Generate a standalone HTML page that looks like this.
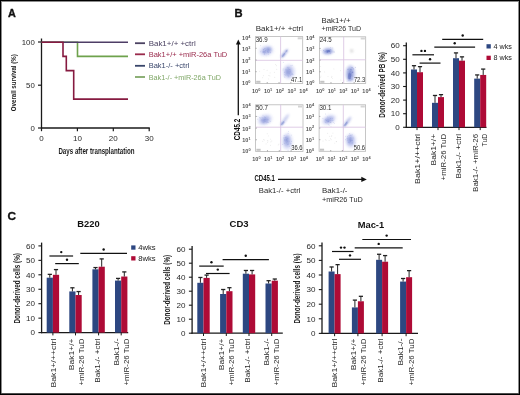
<!DOCTYPE html>
<html><head><meta charset="utf-8"><style>
html,body{margin:0;padding:0;background:#fff;}
#w{position:relative;width:520px;height:395px;overflow:hidden;background:#fff;}
svg{position:absolute;left:0;top:0;will-change:transform;filter:blur(0.3px);}
text{font-family:'Liberation Sans', sans-serif;}
#bd{position:absolute;left:0;top:0;width:520px;height:395px;box-shadow:inset 0 0 0 1px #000, inset 0 -2px 0 0 rgba(0,0,0,.45), inset 0 0 0 2px rgba(0,0,0,.45);}
</style></head><body><div id="w">
<svg width="520" height="395" viewBox="0 0 520 395">
<defs><filter id="f3" x="-50%" y="-50%" width="200%" height="200%"><feGaussianBlur stdDeviation="0.3"/></filter><filter id="f4" x="-50%" y="-50%" width="200%" height="200%"><feGaussianBlur stdDeviation="0.4"/></filter><filter id="f5" x="-50%" y="-50%" width="200%" height="200%"><feGaussianBlur stdDeviation="0.5"/></filter><filter id="f6" x="-50%" y="-50%" width="200%" height="200%"><feGaussianBlur stdDeviation="0.6"/></filter><filter id="f7" x="-50%" y="-50%" width="200%" height="200%"><feGaussianBlur stdDeviation="0.7"/></filter><filter id="f8" x="-50%" y="-50%" width="200%" height="200%"><feGaussianBlur stdDeviation="0.8"/></filter><filter id="f9" x="-50%" y="-50%" width="200%" height="200%"><feGaussianBlur stdDeviation="0.9"/></filter><filter id="f10" x="-50%" y="-50%" width="200%" height="200%"><feGaussianBlur stdDeviation="1.0"/></filter><filter id="f11" x="-50%" y="-50%" width="200%" height="200%"><feGaussianBlur stdDeviation="1.1"/></filter><filter id="f12" x="-50%" y="-50%" width="200%" height="200%"><feGaussianBlur stdDeviation="1.2"/></filter><filter id="f13" x="-50%" y="-50%" width="200%" height="200%"><feGaussianBlur stdDeviation="1.3"/></filter><filter id="f14" x="-50%" y="-50%" width="200%" height="200%"><feGaussianBlur stdDeviation="1.4"/></filter><filter id="f15" x="-50%" y="-50%" width="200%" height="200%"><feGaussianBlur stdDeviation="1.5"/></filter><filter id="f16" x="-50%" y="-50%" width="200%" height="200%"><feGaussianBlur stdDeviation="1.6"/></filter><filter id="f17" x="-50%" y="-50%" width="200%" height="200%"><feGaussianBlur stdDeviation="1.7"/></filter><filter id="f18" x="-50%" y="-50%" width="200%" height="200%"><feGaussianBlur stdDeviation="1.8"/></filter><filter id="f19" x="-50%" y="-50%" width="200%" height="200%"><feGaussianBlur stdDeviation="1.9"/></filter></defs><text x="8.1" y="16.9" font-size="10.8" text-anchor="start" font-weight="bold" fill="#111" stroke="#111" stroke-width="0.35">A</text>
<line x1="41.5" y1="38.5" x2="41.5" y2="128.6" stroke="#1a1a1a" stroke-width="1.3" />
<line x1="40.9" y1="128" x2="149.8" y2="128" stroke="#1a1a1a" stroke-width="1.3" />
<line x1="38" y1="42" x2="41.5" y2="42" stroke="#1a1a1a" stroke-width="1.2" />
<text x="34.8" y="44.5" font-size="7.8" text-anchor="end" font-weight="normal" fill="#2a2a2a" >100</text>
<line x1="38" y1="85.2" x2="41.5" y2="85.2" stroke="#1a1a1a" stroke-width="1.2" />
<text x="34.8" y="87.7" font-size="7.8" text-anchor="end" font-weight="normal" fill="#2a2a2a" >50</text>
<line x1="38" y1="128" x2="41.5" y2="128" stroke="#1a1a1a" stroke-width="1.2" />
<text x="34.8" y="130.5" font-size="7.8" text-anchor="end" font-weight="normal" fill="#2a2a2a" >0</text>
<line x1="41.5" y1="128" x2="41.5" y2="131.2" stroke="#1a1a1a" stroke-width="1.2" />
<text x="41.5" y="140.7" font-size="8" text-anchor="middle" font-weight="normal" fill="#2a2a2a" >0</text>
<line x1="77.4" y1="128" x2="77.4" y2="131.2" stroke="#1a1a1a" stroke-width="1.2" />
<text x="77.4" y="140.7" font-size="8" text-anchor="middle" font-weight="normal" fill="#2a2a2a" >10</text>
<line x1="113.3" y1="128" x2="113.3" y2="131.2" stroke="#1a1a1a" stroke-width="1.2" />
<text x="113.3" y="140.7" font-size="8" text-anchor="middle" font-weight="normal" fill="#2a2a2a" >20</text>
<line x1="149.2" y1="128" x2="149.2" y2="131.2" stroke="#1a1a1a" stroke-width="1.2" />
<text x="149.2" y="140.7" font-size="8" text-anchor="middle" font-weight="normal" fill="#2a2a2a" >30</text>
<text x="58.4" y="154.3" font-size="9.8" text-anchor="start" font-weight="bold" fill="#1a1a1a" textLength="76.2" lengthAdjust="spacingAndGlyphs" >Days after transplantation</text>
<text x="16.0" y="111.2" font-size="7.4" text-anchor="start" font-weight="bold" fill="#1a1a1a" textLength="57" lengthAdjust="spacingAndGlyphs" transform="rotate(-90 16.0 111.2)" >Overall survival (%)</text>
<polyline points="41.5,42.2 77.5,42.2 77.5,56.4 128,56.4" fill="none" stroke="#6ea24c" stroke-width="1.6" stroke-linejoin="miter" stroke-linecap="butt"/>
<polyline points="41.5,42.2 128,42.2" fill="none" stroke="#4e3d66" stroke-width="1.6" stroke-linejoin="miter" stroke-linecap="butt"/>
<polyline points="41.5,42.2 63,42.2 63,56.4 66.3,56.4 66.3,70.6 73.7,70.6 73.7,99.1 128,99.1" fill="none" stroke="#861a40" stroke-width="1.6" stroke-linejoin="miter" stroke-linecap="butt"/>
<line x1="135" y1="43.2" x2="145" y2="43.2" stroke="#4b4262" stroke-width="1.8" />
<text x="148.7" y="45.7" font-size="8.0" text-anchor="start" font-weight="normal" fill="#4b4262" textLength="47" lengthAdjust="spacingAndGlyphs" >Bak1+/+ +ctrl</text>
<line x1="135" y1="54.3" x2="145" y2="54.3" stroke="#9a2a4c" stroke-width="1.8" />
<text x="148.7" y="56.8" font-size="8.0" text-anchor="start" font-weight="normal" fill="#9a2a4c" textLength="78.6" lengthAdjust="spacingAndGlyphs" >Bak1+/+ +miR-26a TuD</text>
<line x1="135" y1="65.8" x2="145" y2="65.8" stroke="#38456a" stroke-width="1.8" />
<text x="148.7" y="68.3" font-size="8.0" text-anchor="start" font-weight="normal" fill="#38456a" textLength="40.6" lengthAdjust="spacingAndGlyphs" >Bak1-/- +ctrl</text>
<line x1="135" y1="77" x2="145" y2="77" stroke="#80a868" stroke-width="1.8" />
<text x="148.7" y="79.5" font-size="8.0" text-anchor="start" font-weight="normal" fill="#80a868" textLength="72.3" lengthAdjust="spacingAndGlyphs" >Bak1-/- +miR-26a TuD</text>
<text x="234.6" y="16.8" font-size="11.2" text-anchor="start" font-weight="bold" fill="#111" stroke="#111" stroke-width="0.35">B</text>
<text x="255.8" y="31.3" font-size="7.4" text-anchor="start" font-weight="normal" fill="#2a2a2a" textLength="47.2" lengthAdjust="spacingAndGlyphs" >Bak1+/+ +ctrl</text>
<text x="321.5" y="23.3" font-size="7.4" text-anchor="start" font-weight="normal" fill="#2a2a2a" textLength="29" lengthAdjust="spacingAndGlyphs" >Bak1+/+</text>
<text x="321.5" y="31.3" font-size="7.4" text-anchor="start" font-weight="normal" fill="#2a2a2a" textLength="39.5" lengthAdjust="spacingAndGlyphs" >+miR26 TuD</text>
<rect x="255.4" y="36.6" width="47.29999999999998" height="46.800000000000004" fill="none" stroke="#b8b8b8" stroke-width="0.8"/>
<line x1="280.6" y1="36.6" x2="280.6" y2="83.4" stroke="#d9c4e2" stroke-width="0.85" />
<line x1="255.4" y1="60.3" x2="302.7" y2="60.3" stroke="#d9c4e2" stroke-width="0.85" />
<ellipse cx="266.3" cy="50.8" rx="7.0" ry="5.0" fill="#d5d9f5" opacity="0.9" transform="rotate(-15 266.3 50.8)" filter="url(#f14)"/>
<ellipse cx="266.8" cy="50.6" rx="4.6" ry="3.2" fill="#acb5e6" opacity="0.8" transform="rotate(-20 266.8 50.6)" filter="url(#f11)"/>
<ellipse cx="268.3" cy="49.6" rx="2.2" ry="1.7" fill="#7f8dd2" opacity="0.6" transform="rotate(-20 268.3 49.6)" filter="url(#f8)"/>
<ellipse cx="264" cy="52" rx="1.6" ry="1.2" fill="#8f9bd8" opacity="0.5" transform="rotate(0 264 52)" filter="url(#f7)"/>
<ellipse cx="284.5" cy="53.5" rx="1.6" ry="5.8" fill="#b4bae6" opacity="0.9" transform="rotate(38 284.5 53.5)" filter="url(#f8)"/>
<ellipse cx="283.5" cy="55" rx="0.9" ry="2.8" fill="#7888cc" opacity="0.7" transform="rotate(38 283.5 55)" filter="url(#f5)"/>
<ellipse cx="286.5" cy="51" rx="0.8" ry="1.6" fill="#7888cc" opacity="0.6" transform="rotate(38 286.5 51)" filter="url(#f5)"/>
<ellipse cx="289" cy="71.8" rx="6.0" ry="7.2" fill="#d5d9f5" opacity="0.9" transform="rotate(0 289 71.8)" filter="url(#f14)"/>
<ellipse cx="288.5" cy="72" rx="3.8" ry="5.0" fill="#acb5e6" opacity="0.8" transform="rotate(0 288.5 72)" filter="url(#f11)"/>
<ellipse cx="288" cy="72" rx="1.9" ry="2.7" fill="#7f8dd2" opacity="0.55" transform="rotate(0 288 72)" filter="url(#f8)"/>
<circle cx="265.6" cy="52.0" r="0.45" fill="#7584cc" opacity="0.4"/>
<circle cx="265.7" cy="50.1" r="0.45" fill="#7584cc" opacity="0.4"/>
<circle cx="263.3" cy="49.8" r="0.45" fill="#7584cc" opacity="0.4"/>
<circle cx="270.3" cy="52.8" r="0.45" fill="#7584cc" opacity="0.4"/>
<circle cx="270.0" cy="52.3" r="0.45" fill="#7584cc" opacity="0.4"/>
<circle cx="267.8" cy="51.7" r="0.45" fill="#7584cc" opacity="0.4"/>
<circle cx="260.8" cy="51.8" r="0.45" fill="#7584cc" opacity="0.4"/>
<circle cx="268.2" cy="52.5" r="0.45" fill="#7584cc" opacity="0.4"/>
<circle cx="260.7" cy="45.8" r="0.45" fill="#7584cc" opacity="0.4"/>
<circle cx="263.5" cy="49.3" r="0.45" fill="#7584cc" opacity="0.4"/>
<circle cx="267.5" cy="51.1" r="0.45" fill="#7584cc" opacity="0.4"/>
<circle cx="268.3" cy="49.9" r="0.45" fill="#7584cc" opacity="0.4"/>
<circle cx="267.5" cy="52.1" r="0.45" fill="#7584cc" opacity="0.4"/>
<circle cx="264.3" cy="54.5" r="0.45" fill="#7584cc" opacity="0.4"/>
<circle cx="268.4" cy="54.1" r="0.45" fill="#7584cc" opacity="0.4"/>
<circle cx="264.4" cy="48.9" r="0.45" fill="#7584cc" opacity="0.4"/>
<circle cx="265.3" cy="50.5" r="0.45" fill="#7584cc" opacity="0.4"/>
<circle cx="268.6" cy="52.0" r="0.45" fill="#7584cc" opacity="0.4"/>
<circle cx="265.0" cy="48.5" r="0.45" fill="#7584cc" opacity="0.4"/>
<circle cx="264.7" cy="53.4" r="0.45" fill="#7584cc" opacity="0.4"/>
<circle cx="263.8" cy="51.0" r="0.45" fill="#7584cc" opacity="0.4"/>
<circle cx="268.0" cy="47.9" r="0.45" fill="#7584cc" opacity="0.4"/>
<circle cx="288.7" cy="76.7" r="0.45" fill="#7584cc" opacity="0.4"/>
<circle cx="283.0" cy="70.1" r="0.45" fill="#7584cc" opacity="0.4"/>
<circle cx="288.3" cy="69.0" r="0.45" fill="#7584cc" opacity="0.4"/>
<circle cx="290.0" cy="72.0" r="0.45" fill="#7584cc" opacity="0.4"/>
<circle cx="284.5" cy="74.4" r="0.45" fill="#7584cc" opacity="0.4"/>
<circle cx="290.5" cy="75.6" r="0.45" fill="#7584cc" opacity="0.4"/>
<circle cx="292.6" cy="73.8" r="0.45" fill="#7584cc" opacity="0.4"/>
<circle cx="288.9" cy="67.4" r="0.45" fill="#7584cc" opacity="0.4"/>
<circle cx="290.3" cy="70.0" r="0.45" fill="#7584cc" opacity="0.4"/>
<circle cx="287.3" cy="67.3" r="0.45" fill="#7584cc" opacity="0.4"/>
<circle cx="285.9" cy="69.7" r="0.45" fill="#7584cc" opacity="0.4"/>
<circle cx="292.2" cy="65.2" r="0.45" fill="#7584cc" opacity="0.4"/>
<circle cx="284.5" cy="72.3" r="0.45" fill="#7584cc" opacity="0.4"/>
<circle cx="292.6" cy="74.6" r="0.45" fill="#7584cc" opacity="0.4"/>
<circle cx="283.3" cy="62.3" r="0.45" fill="#7584cc" opacity="0.4"/>
<circle cx="289.6" cy="69.5" r="0.45" fill="#7584cc" opacity="0.4"/>
<circle cx="285.5" cy="75.1" r="0.45" fill="#7584cc" opacity="0.4"/>
<circle cx="291.7" cy="73.0" r="0.45" fill="#7584cc" opacity="0.4"/>
<circle cx="289.3" cy="73.6" r="0.45" fill="#7584cc" opacity="0.4"/>
<circle cx="293.1" cy="74.8" r="0.45" fill="#7584cc" opacity="0.4"/>
<circle cx="290.1" cy="74.1" r="0.45" fill="#7584cc" opacity="0.4"/>
<circle cx="284.2" cy="76.0" r="0.45" fill="#7584cc" opacity="0.4"/>
<circle cx="291.3" cy="74.2" r="0.45" fill="#7584cc" opacity="0.4"/>
<circle cx="283.1" cy="69.0" r="0.45" fill="#7584cc" opacity="0.4"/>
<circle cx="291.0" cy="65.8" r="0.45" fill="#7584cc" opacity="0.4"/>
<circle cx="288.1" cy="75.6" r="0.45" fill="#7584cc" opacity="0.4"/>
<circle cx="284.9" cy="77.3" r="0.45" fill="#7584cc" opacity="0.4"/>
<circle cx="290.1" cy="71.7" r="0.45" fill="#7584cc" opacity="0.4"/>
<circle cx="269.9" cy="75.9" r="0.45" fill="#bbbbbb" opacity="0.5"/>
<circle cx="268.7" cy="78.9" r="0.45" fill="#bbbbbb" opacity="0.5"/>
<circle cx="264.0" cy="69.5" r="0.45" fill="#bbbbbb" opacity="0.5"/>
<circle cx="274.3" cy="72.2" r="0.45" fill="#bbbbbb" opacity="0.5"/>
<circle cx="262.7" cy="77.7" r="0.45" fill="#bbbbbb" opacity="0.5"/>
<circle cx="276.8" cy="69.3" r="0.45" fill="#bbbbbb" opacity="0.5"/>
<circle cx="259.7" cy="71.2" r="0.45" fill="#bbbbbb" opacity="0.5"/>
<circle cx="267.1" cy="70.2" r="0.45" fill="#bbbbbb" opacity="0.5"/>
<circle cx="276.4" cy="65.8" r="0.45" fill="#bbbbbb" opacity="0.5"/>
<circle cx="275.6" cy="64.4" r="0.45" fill="#bbbbbb" opacity="0.5"/>
<circle cx="263.3" cy="75.8" r="0.45" fill="#bbbbbb" opacity="0.5"/>
<circle cx="274.8" cy="77.2" r="0.45" fill="#bbbbbb" opacity="0.5"/>
<circle cx="270.1" cy="72.9" r="0.45" fill="#bbbbbb" opacity="0.5"/>
<circle cx="268.9" cy="75.5" r="0.45" fill="#bbbbbb" opacity="0.5"/>
<rect x="256.2" y="80.80000000000001" width="4.2" height="2" fill="#c4c4c4"/>
<rect x="297.7" y="37.300000000000004" width="4.2" height="2" fill="#d4d4d4"/>
<line x1="255.4" y1="48.300000000000004" x2="256.6" y2="48.300000000000004" stroke="#9a9a9a" stroke-width="0.9" />
<line x1="267.225" y1="83.4" x2="267.225" y2="82.2" stroke="#9a9a9a" stroke-width="0.9" />
<line x1="255.4" y1="60.0" x2="256.6" y2="60.0" stroke="#9a9a9a" stroke-width="0.9" />
<line x1="279.05" y1="83.4" x2="279.05" y2="82.2" stroke="#9a9a9a" stroke-width="0.9" />
<line x1="255.4" y1="71.7" x2="256.6" y2="71.7" stroke="#9a9a9a" stroke-width="0.9" />
<line x1="290.875" y1="83.4" x2="290.875" y2="82.2" stroke="#9a9a9a" stroke-width="0.9" />
<text x="255.70000000000002" y="42.2" font-size="7" text-anchor="start" font-weight="normal" fill="#2a2a2a" textLength="12" lengthAdjust="spacingAndGlyphs" >36.9</text>
<text x="290.9" y="82.4" font-size="7" text-anchor="start" font-weight="normal" fill="#2a2a2a" textLength="11.3" lengthAdjust="spacingAndGlyphs" >47.1</text>
<text x="250.4" y="40.0" font-size="5.5" font-weight="bold" fill="#555" text-anchor="end">10<tspan font-size="3.9" dy="-2.2">4</tspan></text>
<text x="250.4" y="51.3" font-size="5.5" font-weight="bold" fill="#555" text-anchor="end">10<tspan font-size="3.9" dy="-2.2">3</tspan></text>
<text x="250.4" y="62.6" font-size="5.5" font-weight="bold" fill="#555" text-anchor="end">10<tspan font-size="3.9" dy="-2.2">2</tspan></text>
<text x="250.4" y="73.9" font-size="5.5" font-weight="bold" fill="#555" text-anchor="end">10<tspan font-size="3.9" dy="-2.2">1</tspan></text>
<text x="250.4" y="85.2" font-size="5.5" font-weight="bold" fill="#555" text-anchor="end">10<tspan font-size="3.9" dy="-2.2">0</tspan></text>
<text x="256.2" y="92.9" font-size="5.5" font-weight="bold" fill="#555" text-anchor="middle">10<tspan font-size="3.9" dy="-2.2">0</tspan></text>
<text x="268.02500000000003" y="92.9" font-size="5.5" font-weight="bold" fill="#555" text-anchor="middle">10<tspan font-size="3.9" dy="-2.2">1</tspan></text>
<text x="279.85" y="92.9" font-size="5.5" font-weight="bold" fill="#555" text-anchor="middle">10<tspan font-size="3.9" dy="-2.2">2</tspan></text>
<text x="291.675" y="92.9" font-size="5.5" font-weight="bold" fill="#555" text-anchor="middle">10<tspan font-size="3.9" dy="-2.2">3</tspan></text>
<text x="303.5" y="92.9" font-size="5.5" font-weight="bold" fill="#555" text-anchor="middle">10<tspan font-size="3.9" dy="-2.2">4</tspan></text>
<rect x="319.4" y="36.8" width="46.30000000000001" height="46.60000000000001" fill="none" stroke="#b8b8b8" stroke-width="0.8"/>
<line x1="343.7" y1="36.8" x2="343.7" y2="83.4" stroke="#d9c4e2" stroke-width="0.85" />
<line x1="319.4" y1="59.8" x2="365.7" y2="59.8" stroke="#d9c4e2" stroke-width="0.85" />
<ellipse cx="328" cy="51.2" rx="5.8" ry="3.6" fill="#c8cef0" opacity="0.9" transform="rotate(-5 328 51.2)" filter="url(#f12)"/>
<ellipse cx="328" cy="51.2" rx="3.8" ry="2.0" fill="#7d8dd0" opacity="0.8" transform="rotate(-5 328 51.2)" filter="url(#f9)"/>
<ellipse cx="328.5" cy="51" rx="1.8" ry="1.1" fill="#5a6cc0" opacity="0.6" transform="rotate(-5 328.5 51)" filter="url(#f6)"/>
<ellipse cx="351.7" cy="50.8" rx="1.7" ry="1.9" fill="#d8d8d8" opacity="0.9" transform="rotate(0 351.7 50.8)" filter="url(#f8)"/>
<ellipse cx="350.5" cy="73.5" rx="5.0" ry="8.6" fill="#c8cef0" opacity="0.9" transform="rotate(0 350.5 73.5)" filter="url(#f13)"/>
<ellipse cx="350.2" cy="74" rx="2.8" ry="6.2" fill="#7d8dd0" opacity="0.75" transform="rotate(5 350.2 74)" filter="url(#f10)"/>
<ellipse cx="349.5" cy="76" rx="1.4" ry="3.5" fill="#5565b8" opacity="0.55" transform="rotate(5 349.5 76)" filter="url(#f6)"/>
<circle cx="327.5" cy="51.6" r="0.45" fill="#5a6abd" opacity="0.45"/>
<circle cx="329.5" cy="51.3" r="0.45" fill="#5a6abd" opacity="0.45"/>
<circle cx="330.0" cy="52.1" r="0.45" fill="#5a6abd" opacity="0.45"/>
<circle cx="333.2" cy="51.9" r="0.45" fill="#5a6abd" opacity="0.45"/>
<circle cx="326.9" cy="50.6" r="0.45" fill="#5a6abd" opacity="0.45"/>
<circle cx="328.0" cy="52.5" r="0.45" fill="#5a6abd" opacity="0.45"/>
<circle cx="327.1" cy="51.7" r="0.45" fill="#5a6abd" opacity="0.45"/>
<circle cx="332.8" cy="47.9" r="0.45" fill="#5a6abd" opacity="0.45"/>
<circle cx="325.1" cy="51.4" r="0.45" fill="#5a6abd" opacity="0.45"/>
<circle cx="329.0" cy="51.6" r="0.45" fill="#5a6abd" opacity="0.45"/>
<circle cx="326.9" cy="52.1" r="0.45" fill="#5a6abd" opacity="0.45"/>
<circle cx="328.7" cy="50.5" r="0.45" fill="#5a6abd" opacity="0.45"/>
<circle cx="334.3" cy="52.0" r="0.45" fill="#5a6abd" opacity="0.45"/>
<circle cx="326.6" cy="51.0" r="0.45" fill="#5a6abd" opacity="0.45"/>
<circle cx="327.4" cy="51.1" r="0.45" fill="#5a6abd" opacity="0.45"/>
<circle cx="320.9" cy="50.1" r="0.45" fill="#5a6abd" opacity="0.45"/>
<circle cx="330.6" cy="49.7" r="0.45" fill="#5a6abd" opacity="0.45"/>
<circle cx="327.8" cy="52.5" r="0.45" fill="#5a6abd" opacity="0.45"/>
<circle cx="330.2" cy="53.4" r="0.45" fill="#5a6abd" opacity="0.45"/>
<circle cx="323.6" cy="50.5" r="0.45" fill="#5a6abd" opacity="0.45"/>
<circle cx="327.1" cy="52.0" r="0.45" fill="#5a6abd" opacity="0.45"/>
<circle cx="330.8" cy="47.6" r="0.45" fill="#5a6abd" opacity="0.45"/>
<circle cx="352.5" cy="67.5" r="0.45" fill="#5a6abd" opacity="0.45"/>
<circle cx="351.7" cy="67.6" r="0.45" fill="#5a6abd" opacity="0.45"/>
<circle cx="350.8" cy="78.5" r="0.45" fill="#5a6abd" opacity="0.45"/>
<circle cx="350.2" cy="74.9" r="0.45" fill="#5a6abd" opacity="0.45"/>
<circle cx="351.9" cy="73.9" r="0.45" fill="#5a6abd" opacity="0.45"/>
<circle cx="350.3" cy="80.1" r="0.45" fill="#5a6abd" opacity="0.45"/>
<circle cx="352.4" cy="72.0" r="0.45" fill="#5a6abd" opacity="0.45"/>
<circle cx="355.4" cy="67.3" r="0.45" fill="#5a6abd" opacity="0.45"/>
<circle cx="352.1" cy="72.2" r="0.45" fill="#5a6abd" opacity="0.45"/>
<circle cx="350.7" cy="76.7" r="0.45" fill="#5a6abd" opacity="0.45"/>
<circle cx="350.9" cy="76.3" r="0.45" fill="#5a6abd" opacity="0.45"/>
<circle cx="347.8" cy="69.3" r="0.45" fill="#5a6abd" opacity="0.45"/>
<circle cx="351.6" cy="69.7" r="0.45" fill="#5a6abd" opacity="0.45"/>
<circle cx="348.7" cy="69.1" r="0.45" fill="#5a6abd" opacity="0.45"/>
<circle cx="352.8" cy="75.9" r="0.45" fill="#5a6abd" opacity="0.45"/>
<circle cx="353.2" cy="69.1" r="0.45" fill="#5a6abd" opacity="0.45"/>
<circle cx="350.5" cy="69.5" r="0.45" fill="#5a6abd" opacity="0.45"/>
<circle cx="351.9" cy="79.6" r="0.45" fill="#5a6abd" opacity="0.45"/>
<circle cx="348.9" cy="80.8" r="0.45" fill="#5a6abd" opacity="0.45"/>
<circle cx="352.3" cy="72.5" r="0.45" fill="#5a6abd" opacity="0.45"/>
<circle cx="347.0" cy="81.1" r="0.45" fill="#5a6abd" opacity="0.45"/>
<circle cx="350.3" cy="71.7" r="0.45" fill="#5a6abd" opacity="0.45"/>
<circle cx="351.2" cy="75.3" r="0.45" fill="#5a6abd" opacity="0.45"/>
<circle cx="353.2" cy="68.8" r="0.45" fill="#5a6abd" opacity="0.45"/>
<circle cx="352.5" cy="78.9" r="0.45" fill="#5a6abd" opacity="0.45"/>
<circle cx="353.1" cy="72.1" r="0.45" fill="#5a6abd" opacity="0.45"/>
<circle cx="349.2" cy="78.6" r="0.45" fill="#5a6abd" opacity="0.45"/>
<circle cx="350.7" cy="74.4" r="0.45" fill="#5a6abd" opacity="0.45"/>
<circle cx="340.5" cy="70.7" r="0.45" fill="#bbbbbb" opacity="0.5"/>
<circle cx="320.9" cy="76.1" r="0.45" fill="#bbbbbb" opacity="0.5"/>
<circle cx="333.9" cy="68.9" r="0.45" fill="#bbbbbb" opacity="0.5"/>
<circle cx="331.9" cy="76.2" r="0.45" fill="#bbbbbb" opacity="0.5"/>
<circle cx="332.5" cy="78.6" r="0.45" fill="#bbbbbb" opacity="0.5"/>
<circle cx="331.6" cy="77.2" r="0.45" fill="#bbbbbb" opacity="0.5"/>
<circle cx="340.9" cy="80.0" r="0.45" fill="#bbbbbb" opacity="0.5"/>
<circle cx="328.0" cy="76.4" r="0.45" fill="#bbbbbb" opacity="0.5"/>
<circle cx="320.7" cy="66.6" r="0.45" fill="#bbbbbb" opacity="0.5"/>
<circle cx="320.2" cy="77.3" r="0.45" fill="#bbbbbb" opacity="0.5"/>
<circle cx="324.6" cy="71.9" r="0.45" fill="#bbbbbb" opacity="0.5"/>
<rect x="320.2" y="80.80000000000001" width="4.2" height="2" fill="#c4c4c4"/>
<rect x="360.7" y="37.5" width="4.2" height="2" fill="#d4d4d4"/>
<line x1="319.4" y1="48.45" x2="320.59999999999997" y2="48.45" stroke="#9a9a9a" stroke-width="0.9" />
<line x1="330.97499999999997" y1="83.4" x2="330.97499999999997" y2="82.2" stroke="#9a9a9a" stroke-width="0.9" />
<line x1="319.4" y1="60.1" x2="320.59999999999997" y2="60.1" stroke="#9a9a9a" stroke-width="0.9" />
<line x1="342.54999999999995" y1="83.4" x2="342.54999999999995" y2="82.2" stroke="#9a9a9a" stroke-width="0.9" />
<line x1="319.4" y1="71.75" x2="320.59999999999997" y2="71.75" stroke="#9a9a9a" stroke-width="0.9" />
<line x1="354.125" y1="83.4" x2="354.125" y2="82.2" stroke="#9a9a9a" stroke-width="0.9" />
<text x="319.7" y="42.4" font-size="7" text-anchor="start" font-weight="normal" fill="#2a2a2a" textLength="12" lengthAdjust="spacingAndGlyphs" >24.5</text>
<text x="353.9" y="82.4" font-size="7" text-anchor="start" font-weight="normal" fill="#2a2a2a" textLength="11.3" lengthAdjust="spacingAndGlyphs" >72.3</text>
<text x="314.4" y="40.199999999999996" font-size="5.5" font-weight="bold" fill="#555" text-anchor="end">10<tspan font-size="3.9" dy="-2.2">4</tspan></text>
<text x="314.4" y="51.449999999999996" font-size="5.5" font-weight="bold" fill="#555" text-anchor="end">10<tspan font-size="3.9" dy="-2.2">3</tspan></text>
<text x="314.4" y="62.7" font-size="5.5" font-weight="bold" fill="#555" text-anchor="end">10<tspan font-size="3.9" dy="-2.2">2</tspan></text>
<text x="314.4" y="73.95" font-size="5.5" font-weight="bold" fill="#555" text-anchor="end">10<tspan font-size="3.9" dy="-2.2">1</tspan></text>
<text x="314.4" y="85.2" font-size="5.5" font-weight="bold" fill="#555" text-anchor="end">10<tspan font-size="3.9" dy="-2.2">0</tspan></text>
<text x="320.2" y="92.9" font-size="5.5" font-weight="bold" fill="#555" text-anchor="middle">10<tspan font-size="3.9" dy="-2.2">0</tspan></text>
<text x="331.775" y="92.9" font-size="5.5" font-weight="bold" fill="#555" text-anchor="middle">10<tspan font-size="3.9" dy="-2.2">1</tspan></text>
<text x="343.34999999999997" y="92.9" font-size="5.5" font-weight="bold" fill="#555" text-anchor="middle">10<tspan font-size="3.9" dy="-2.2">2</tspan></text>
<text x="354.925" y="92.9" font-size="5.5" font-weight="bold" fill="#555" text-anchor="middle">10<tspan font-size="3.9" dy="-2.2">3</tspan></text>
<text x="366.5" y="92.9" font-size="5.5" font-weight="bold" fill="#555" text-anchor="middle">10<tspan font-size="3.9" dy="-2.2">4</tspan></text>
<rect x="255.6" y="104.8" width="47.400000000000006" height="46.60000000000001" fill="none" stroke="#b8b8b8" stroke-width="0.8"/>
<line x1="280.7" y1="104.8" x2="280.7" y2="151.4" stroke="#d9c4e2" stroke-width="0.85" />
<line x1="255.6" y1="127.2" x2="303.0" y2="127.2" stroke="#d9c4e2" stroke-width="0.85" />
<ellipse cx="265" cy="119.8" rx="7.2" ry="5.0" fill="#d5d9f5" opacity="0.9" transform="rotate(-20 265 119.8)" filter="url(#f14)"/>
<ellipse cx="265" cy="120" rx="4.6" ry="3.2" fill="#acb5e6" opacity="0.8" transform="rotate(-20 265 120)" filter="url(#f11)"/>
<ellipse cx="264.5" cy="120.3" rx="2.3" ry="1.7" fill="#7f8dd2" opacity="0.6" transform="rotate(-20 264.5 120.3)" filter="url(#f8)"/>
<ellipse cx="284.7" cy="120" rx="1.5" ry="7.2" fill="#c0c6ec" opacity="0.9" transform="rotate(35 284.7 120)" filter="url(#f8)"/>
<ellipse cx="282.6" cy="123.2" rx="1.0" ry="2.6" fill="#7888cc" opacity="0.7" transform="rotate(40 282.6 123.2)" filter="url(#f5)"/>
<ellipse cx="287.3" cy="141.5" rx="5.2" ry="8.0" fill="#d5d9f5" opacity="0.9" transform="rotate(0 287.3 141.5)" filter="url(#f14)"/>
<ellipse cx="287" cy="141" rx="3.2" ry="5.4" fill="#acb5e6" opacity="0.8" transform="rotate(0 287 141)" filter="url(#f11)"/>
<ellipse cx="286.5" cy="140" rx="1.6" ry="2.7" fill="#7f8dd2" opacity="0.55" transform="rotate(0 286.5 140)" filter="url(#f8)"/>
<circle cx="264.4" cy="119.8" r="0.45" fill="#7584cc" opacity="0.4"/>
<circle cx="263.1" cy="120.1" r="0.45" fill="#7584cc" opacity="0.4"/>
<circle cx="270.7" cy="121.4" r="0.45" fill="#7584cc" opacity="0.4"/>
<circle cx="266.7" cy="122.7" r="0.45" fill="#7584cc" opacity="0.4"/>
<circle cx="264.4" cy="117.0" r="0.45" fill="#7584cc" opacity="0.4"/>
<circle cx="263.2" cy="122.1" r="0.45" fill="#7584cc" opacity="0.4"/>
<circle cx="259.7" cy="117.4" r="0.45" fill="#7584cc" opacity="0.4"/>
<circle cx="268.2" cy="122.5" r="0.45" fill="#7584cc" opacity="0.4"/>
<circle cx="265.0" cy="121.8" r="0.45" fill="#7584cc" opacity="0.4"/>
<circle cx="265.5" cy="117.4" r="0.45" fill="#7584cc" opacity="0.4"/>
<circle cx="260.0" cy="117.4" r="0.45" fill="#7584cc" opacity="0.4"/>
<circle cx="268.0" cy="119.4" r="0.45" fill="#7584cc" opacity="0.4"/>
<circle cx="262.1" cy="117.6" r="0.45" fill="#7584cc" opacity="0.4"/>
<circle cx="260.1" cy="118.6" r="0.45" fill="#7584cc" opacity="0.4"/>
<circle cx="261.2" cy="120.0" r="0.45" fill="#7584cc" opacity="0.4"/>
<circle cx="257.4" cy="119.1" r="0.45" fill="#7584cc" opacity="0.4"/>
<circle cx="262.9" cy="115.1" r="0.45" fill="#7584cc" opacity="0.4"/>
<circle cx="267.3" cy="119.9" r="0.45" fill="#7584cc" opacity="0.4"/>
<circle cx="257.9" cy="116.4" r="0.45" fill="#7584cc" opacity="0.4"/>
<circle cx="265.9" cy="119.2" r="0.45" fill="#7584cc" opacity="0.4"/>
<circle cx="267.5" cy="122.3" r="0.45" fill="#7584cc" opacity="0.4"/>
<circle cx="267.1" cy="121.2" r="0.45" fill="#7584cc" opacity="0.4"/>
<circle cx="290.2" cy="144.0" r="0.45" fill="#7584cc" opacity="0.4"/>
<circle cx="288.1" cy="133.3" r="0.45" fill="#7584cc" opacity="0.4"/>
<circle cx="289.2" cy="146.3" r="0.45" fill="#7584cc" opacity="0.4"/>
<circle cx="286.3" cy="139.1" r="0.45" fill="#7584cc" opacity="0.4"/>
<circle cx="291.7" cy="135.1" r="0.45" fill="#7584cc" opacity="0.4"/>
<circle cx="288.1" cy="150.3" r="0.45" fill="#7584cc" opacity="0.4"/>
<circle cx="284.8" cy="143.3" r="0.45" fill="#7584cc" opacity="0.4"/>
<circle cx="291.5" cy="141.3" r="0.45" fill="#7584cc" opacity="0.4"/>
<circle cx="288.3" cy="144.6" r="0.45" fill="#7584cc" opacity="0.4"/>
<circle cx="284.8" cy="140.3" r="0.45" fill="#7584cc" opacity="0.4"/>
<circle cx="287.7" cy="144.2" r="0.45" fill="#7584cc" opacity="0.4"/>
<circle cx="286.9" cy="140.2" r="0.45" fill="#7584cc" opacity="0.4"/>
<circle cx="284.6" cy="139.3" r="0.45" fill="#7584cc" opacity="0.4"/>
<circle cx="289.1" cy="141.7" r="0.45" fill="#7584cc" opacity="0.4"/>
<circle cx="285.0" cy="137.5" r="0.45" fill="#7584cc" opacity="0.4"/>
<circle cx="293.4" cy="146.3" r="0.45" fill="#7584cc" opacity="0.4"/>
<circle cx="288.5" cy="131.4" r="0.45" fill="#7584cc" opacity="0.4"/>
<circle cx="288.5" cy="143.1" r="0.45" fill="#7584cc" opacity="0.4"/>
<circle cx="291.0" cy="143.3" r="0.45" fill="#7584cc" opacity="0.4"/>
<circle cx="286.8" cy="142.9" r="0.45" fill="#7584cc" opacity="0.4"/>
<circle cx="282.3" cy="144.2" r="0.45" fill="#7584cc" opacity="0.4"/>
<circle cx="287.8" cy="138.5" r="0.45" fill="#7584cc" opacity="0.4"/>
<circle cx="290.2" cy="148.3" r="0.45" fill="#7584cc" opacity="0.4"/>
<circle cx="283.6" cy="137.9" r="0.45" fill="#7584cc" opacity="0.4"/>
<circle cx="287.7" cy="141.8" r="0.45" fill="#7584cc" opacity="0.4"/>
<circle cx="286.0" cy="137.2" r="0.45" fill="#7584cc" opacity="0.4"/>
<circle cx="292.1" cy="145.7" r="0.45" fill="#7584cc" opacity="0.4"/>
<circle cx="284.1" cy="135.5" r="0.45" fill="#7584cc" opacity="0.4"/>
<circle cx="278.2" cy="144.9" r="0.45" fill="#bbbbbb" opacity="0.5"/>
<circle cx="278.9" cy="144.1" r="0.45" fill="#bbbbbb" opacity="0.5"/>
<circle cx="262.8" cy="141.3" r="0.45" fill="#bbbbbb" opacity="0.5"/>
<circle cx="267.6" cy="142.6" r="0.45" fill="#bbbbbb" opacity="0.5"/>
<circle cx="263.6" cy="139.4" r="0.45" fill="#bbbbbb" opacity="0.5"/>
<circle cx="270.8" cy="141.9" r="0.45" fill="#bbbbbb" opacity="0.5"/>
<circle cx="271.8" cy="141.0" r="0.45" fill="#bbbbbb" opacity="0.5"/>
<circle cx="266.1" cy="143.9" r="0.45" fill="#bbbbbb" opacity="0.5"/>
<circle cx="268.3" cy="135.9" r="0.45" fill="#bbbbbb" opacity="0.5"/>
<circle cx="264.2" cy="140.0" r="0.45" fill="#bbbbbb" opacity="0.5"/>
<circle cx="267.3" cy="140.8" r="0.45" fill="#bbbbbb" opacity="0.5"/>
<circle cx="268.0" cy="140.9" r="0.45" fill="#bbbbbb" opacity="0.5"/>
<circle cx="267.2" cy="133.7" r="0.45" fill="#bbbbbb" opacity="0.5"/>
<circle cx="270.5" cy="145.3" r="0.45" fill="#bbbbbb" opacity="0.5"/>
<circle cx="270.6" cy="139.1" r="0.45" fill="#bbbbbb" opacity="0.5"/>
<rect x="256.4" y="148.8" width="4.2" height="2" fill="#c4c4c4"/>
<rect x="298.0" y="105.5" width="4.2" height="2" fill="#d4d4d4"/>
<line x1="255.6" y1="116.45" x2="256.8" y2="116.45" stroke="#9a9a9a" stroke-width="0.9" />
<line x1="267.45" y1="151.4" x2="267.45" y2="150.20000000000002" stroke="#9a9a9a" stroke-width="0.9" />
<line x1="255.6" y1="128.1" x2="256.8" y2="128.1" stroke="#9a9a9a" stroke-width="0.9" />
<line x1="279.3" y1="151.4" x2="279.3" y2="150.20000000000002" stroke="#9a9a9a" stroke-width="0.9" />
<line x1="255.6" y1="139.75" x2="256.8" y2="139.75" stroke="#9a9a9a" stroke-width="0.9" />
<line x1="291.15" y1="151.4" x2="291.15" y2="150.20000000000002" stroke="#9a9a9a" stroke-width="0.9" />
<text x="255.9" y="110.39999999999999" font-size="7" text-anchor="start" font-weight="normal" fill="#2a2a2a" textLength="12" lengthAdjust="spacingAndGlyphs" >50.7</text>
<text x="291.2" y="150.4" font-size="7" text-anchor="start" font-weight="normal" fill="#2a2a2a" textLength="11.3" lengthAdjust="spacingAndGlyphs" >36.6</text>
<text x="250.6" y="108.2" font-size="5.5" font-weight="bold" fill="#555" text-anchor="end">10<tspan font-size="3.9" dy="-2.2">4</tspan></text>
<text x="250.6" y="119.45" font-size="5.5" font-weight="bold" fill="#555" text-anchor="end">10<tspan font-size="3.9" dy="-2.2">3</tspan></text>
<text x="250.6" y="130.70000000000002" font-size="5.5" font-weight="bold" fill="#555" text-anchor="end">10<tspan font-size="3.9" dy="-2.2">2</tspan></text>
<text x="250.6" y="141.95000000000002" font-size="5.5" font-weight="bold" fill="#555" text-anchor="end">10<tspan font-size="3.9" dy="-2.2">1</tspan></text>
<text x="250.6" y="153.20000000000002" font-size="5.5" font-weight="bold" fill="#555" text-anchor="end">10<tspan font-size="3.9" dy="-2.2">0</tspan></text>
<text x="256.4" y="160.9" font-size="5.5" font-weight="bold" fill="#555" text-anchor="middle">10<tspan font-size="3.9" dy="-2.2">0</tspan></text>
<text x="268.25" y="160.9" font-size="5.5" font-weight="bold" fill="#555" text-anchor="middle">10<tspan font-size="3.9" dy="-2.2">1</tspan></text>
<text x="280.1" y="160.9" font-size="5.5" font-weight="bold" fill="#555" text-anchor="middle">10<tspan font-size="3.9" dy="-2.2">2</tspan></text>
<text x="291.95" y="160.9" font-size="5.5" font-weight="bold" fill="#555" text-anchor="middle">10<tspan font-size="3.9" dy="-2.2">3</tspan></text>
<text x="303.8" y="160.9" font-size="5.5" font-weight="bold" fill="#555" text-anchor="middle">10<tspan font-size="3.9" dy="-2.2">4</tspan></text>
<rect x="319.1" y="104.8" width="46.5" height="46.500000000000014" fill="none" stroke="#b8b8b8" stroke-width="0.8"/>
<line x1="343.3" y1="104.8" x2="343.3" y2="151.3" stroke="#d9c4e2" stroke-width="0.85" />
<line x1="319.1" y1="127.2" x2="365.6" y2="127.2" stroke="#d9c4e2" stroke-width="0.85" />
<ellipse cx="329" cy="119.8" rx="7.2" ry="4.2" fill="#d5d9f5" opacity="0.9" transform="rotate(-25 329 119.8)" filter="url(#f14)"/>
<ellipse cx="329" cy="119.8" rx="4.6" ry="2.7" fill="#acb5e6" opacity="0.8" transform="rotate(-25 329 119.8)" filter="url(#f11)"/>
<ellipse cx="328" cy="120.5" rx="2.1" ry="1.6" fill="#7f8dd2" opacity="0.6" transform="rotate(-25 328 120.5)" filter="url(#f8)"/>
<ellipse cx="347.2" cy="122" rx="1.5" ry="6.4" fill="#b4bae6" opacity="0.9" transform="rotate(37 347.2 122)" filter="url(#f8)"/>
<ellipse cx="345.8" cy="124" rx="0.9" ry="3.0" fill="#7888cc" opacity="0.7" transform="rotate(37 345.8 124)" filter="url(#f5)"/>
<ellipse cx="350.8" cy="140.8" rx="5.2" ry="7.0" fill="#d5d9f5" opacity="0.9" transform="rotate(0 350.8 140.8)" filter="url(#f14)"/>
<ellipse cx="350.5" cy="140.5" rx="3.3" ry="4.8" fill="#acb5e6" opacity="0.8" transform="rotate(0 350.5 140.5)" filter="url(#f11)"/>
<ellipse cx="350" cy="140" rx="1.7" ry="2.7" fill="#7f8dd2" opacity="0.55" transform="rotate(0 350 140)" filter="url(#f8)"/>
<circle cx="330.4" cy="118.5" r="0.45" fill="#7584cc" opacity="0.4"/>
<circle cx="322.9" cy="118.5" r="0.45" fill="#7584cc" opacity="0.4"/>
<circle cx="326.0" cy="120.6" r="0.45" fill="#7584cc" opacity="0.4"/>
<circle cx="325.5" cy="114.0" r="0.45" fill="#7584cc" opacity="0.4"/>
<circle cx="325.7" cy="122.2" r="0.45" fill="#7584cc" opacity="0.4"/>
<circle cx="327.8" cy="117.0" r="0.45" fill="#7584cc" opacity="0.4"/>
<circle cx="326.6" cy="120.4" r="0.45" fill="#7584cc" opacity="0.4"/>
<circle cx="330.6" cy="120.8" r="0.45" fill="#7584cc" opacity="0.4"/>
<circle cx="333.7" cy="122.6" r="0.45" fill="#7584cc" opacity="0.4"/>
<circle cx="328.9" cy="121.1" r="0.45" fill="#7584cc" opacity="0.4"/>
<circle cx="334.3" cy="123.3" r="0.45" fill="#7584cc" opacity="0.4"/>
<circle cx="332.3" cy="118.8" r="0.45" fill="#7584cc" opacity="0.4"/>
<circle cx="328.5" cy="121.3" r="0.45" fill="#7584cc" opacity="0.4"/>
<circle cx="328.1" cy="121.8" r="0.45" fill="#7584cc" opacity="0.4"/>
<circle cx="330.9" cy="122.2" r="0.45" fill="#7584cc" opacity="0.4"/>
<circle cx="328.3" cy="124.7" r="0.45" fill="#7584cc" opacity="0.4"/>
<circle cx="333.0" cy="120.6" r="0.45" fill="#7584cc" opacity="0.4"/>
<circle cx="329.3" cy="125.1" r="0.45" fill="#7584cc" opacity="0.4"/>
<circle cx="327.9" cy="121.4" r="0.45" fill="#7584cc" opacity="0.4"/>
<circle cx="332.1" cy="120.8" r="0.45" fill="#7584cc" opacity="0.4"/>
<circle cx="325.3" cy="119.4" r="0.45" fill="#7584cc" opacity="0.4"/>
<circle cx="330.2" cy="122.5" r="0.45" fill="#7584cc" opacity="0.4"/>
<circle cx="352.5" cy="140.8" r="0.45" fill="#7584cc" opacity="0.4"/>
<circle cx="352.7" cy="142.6" r="0.45" fill="#7584cc" opacity="0.4"/>
<circle cx="351.0" cy="140.8" r="0.45" fill="#7584cc" opacity="0.4"/>
<circle cx="349.9" cy="142.7" r="0.45" fill="#7584cc" opacity="0.4"/>
<circle cx="347.8" cy="138.0" r="0.45" fill="#7584cc" opacity="0.4"/>
<circle cx="350.5" cy="135.5" r="0.45" fill="#7584cc" opacity="0.4"/>
<circle cx="349.4" cy="133.6" r="0.45" fill="#7584cc" opacity="0.4"/>
<circle cx="348.7" cy="142.2" r="0.45" fill="#7584cc" opacity="0.4"/>
<circle cx="352.0" cy="140.5" r="0.45" fill="#7584cc" opacity="0.4"/>
<circle cx="349.9" cy="135.6" r="0.45" fill="#7584cc" opacity="0.4"/>
<circle cx="355.3" cy="142.9" r="0.45" fill="#7584cc" opacity="0.4"/>
<circle cx="353.3" cy="137.9" r="0.45" fill="#7584cc" opacity="0.4"/>
<circle cx="350.0" cy="134.3" r="0.45" fill="#7584cc" opacity="0.4"/>
<circle cx="352.5" cy="143.9" r="0.45" fill="#7584cc" opacity="0.4"/>
<circle cx="345.6" cy="139.7" r="0.45" fill="#7584cc" opacity="0.4"/>
<circle cx="352.1" cy="134.8" r="0.45" fill="#7584cc" opacity="0.4"/>
<circle cx="345.8" cy="136.3" r="0.45" fill="#7584cc" opacity="0.4"/>
<circle cx="348.9" cy="135.5" r="0.45" fill="#7584cc" opacity="0.4"/>
<circle cx="350.6" cy="141.4" r="0.45" fill="#7584cc" opacity="0.4"/>
<circle cx="352.1" cy="143.1" r="0.45" fill="#7584cc" opacity="0.4"/>
<circle cx="354.4" cy="144.9" r="0.45" fill="#7584cc" opacity="0.4"/>
<circle cx="347.1" cy="138.3" r="0.45" fill="#7584cc" opacity="0.4"/>
<circle cx="347.7" cy="136.5" r="0.45" fill="#7584cc" opacity="0.4"/>
<circle cx="350.3" cy="140.5" r="0.45" fill="#7584cc" opacity="0.4"/>
<circle cx="351.8" cy="135.3" r="0.45" fill="#7584cc" opacity="0.4"/>
<circle cx="347.3" cy="140.0" r="0.45" fill="#7584cc" opacity="0.4"/>
<circle cx="350.0" cy="139.4" r="0.45" fill="#7584cc" opacity="0.4"/>
<circle cx="350.3" cy="137.9" r="0.45" fill="#7584cc" opacity="0.4"/>
<circle cx="336.2" cy="141.8" r="0.45" fill="#bbbbbb" opacity="0.5"/>
<circle cx="331.5" cy="136.6" r="0.45" fill="#bbbbbb" opacity="0.5"/>
<circle cx="331.0" cy="126.4" r="0.45" fill="#bbbbbb" opacity="0.5"/>
<circle cx="326.1" cy="140.2" r="0.45" fill="#bbbbbb" opacity="0.5"/>
<circle cx="323.0" cy="141.0" r="0.45" fill="#bbbbbb" opacity="0.5"/>
<circle cx="332.9" cy="133.1" r="0.45" fill="#bbbbbb" opacity="0.5"/>
<circle cx="330.5" cy="138.4" r="0.45" fill="#bbbbbb" opacity="0.5"/>
<circle cx="334.8" cy="143.1" r="0.45" fill="#bbbbbb" opacity="0.5"/>
<circle cx="331.8" cy="135.7" r="0.45" fill="#bbbbbb" opacity="0.5"/>
<circle cx="331.1" cy="139.7" r="0.45" fill="#bbbbbb" opacity="0.5"/>
<circle cx="336.4" cy="141.5" r="0.45" fill="#bbbbbb" opacity="0.5"/>
<circle cx="327.7" cy="133.2" r="0.45" fill="#bbbbbb" opacity="0.5"/>
<circle cx="329.8" cy="136.3" r="0.45" fill="#bbbbbb" opacity="0.5"/>
<circle cx="325.3" cy="139.4" r="0.45" fill="#bbbbbb" opacity="0.5"/>
<circle cx="329.1" cy="140.5" r="0.45" fill="#bbbbbb" opacity="0.5"/>
<circle cx="335.1" cy="137.9" r="0.45" fill="#bbbbbb" opacity="0.5"/>
<rect x="319.90000000000003" y="148.70000000000002" width="4.2" height="2" fill="#c4c4c4"/>
<rect x="360.6" y="105.5" width="4.2" height="2" fill="#d4d4d4"/>
<line x1="319.1" y1="116.425" x2="320.3" y2="116.425" stroke="#9a9a9a" stroke-width="0.9" />
<line x1="330.725" y1="151.3" x2="330.725" y2="150.10000000000002" stroke="#9a9a9a" stroke-width="0.9" />
<line x1="319.1" y1="128.05" x2="320.3" y2="128.05" stroke="#9a9a9a" stroke-width="0.9" />
<line x1="342.35" y1="151.3" x2="342.35" y2="150.10000000000002" stroke="#9a9a9a" stroke-width="0.9" />
<line x1="319.1" y1="139.675" x2="320.3" y2="139.675" stroke="#9a9a9a" stroke-width="0.9" />
<line x1="353.975" y1="151.3" x2="353.975" y2="150.10000000000002" stroke="#9a9a9a" stroke-width="0.9" />
<text x="319.40000000000003" y="110.39999999999999" font-size="7" text-anchor="start" font-weight="normal" fill="#2a2a2a" textLength="12" lengthAdjust="spacingAndGlyphs" >30.1</text>
<text x="353.8" y="150.3" font-size="7" text-anchor="start" font-weight="normal" fill="#2a2a2a" textLength="11.3" lengthAdjust="spacingAndGlyphs" >50.6</text>
<text x="314.1" y="108.2" font-size="5.5" font-weight="bold" fill="#555" text-anchor="end">10<tspan font-size="3.9" dy="-2.2">4</tspan></text>
<text x="314.1" y="119.42500000000001" font-size="5.5" font-weight="bold" fill="#555" text-anchor="end">10<tspan font-size="3.9" dy="-2.2">3</tspan></text>
<text x="314.1" y="130.65" font-size="5.5" font-weight="bold" fill="#555" text-anchor="end">10<tspan font-size="3.9" dy="-2.2">2</tspan></text>
<text x="314.1" y="141.875" font-size="5.5" font-weight="bold" fill="#555" text-anchor="end">10<tspan font-size="3.9" dy="-2.2">1</tspan></text>
<text x="314.1" y="153.10000000000002" font-size="5.5" font-weight="bold" fill="#555" text-anchor="end">10<tspan font-size="3.9" dy="-2.2">0</tspan></text>
<text x="319.90000000000003" y="160.8" font-size="5.5" font-weight="bold" fill="#555" text-anchor="middle">10<tspan font-size="3.9" dy="-2.2">0</tspan></text>
<text x="331.52500000000003" y="160.8" font-size="5.5" font-weight="bold" fill="#555" text-anchor="middle">10<tspan font-size="3.9" dy="-2.2">1</tspan></text>
<text x="343.15000000000003" y="160.8" font-size="5.5" font-weight="bold" fill="#555" text-anchor="middle">10<tspan font-size="3.9" dy="-2.2">2</tspan></text>
<text x="354.77500000000003" y="160.8" font-size="5.5" font-weight="bold" fill="#555" text-anchor="middle">10<tspan font-size="3.9" dy="-2.2">3</tspan></text>
<text x="366.40000000000003" y="160.8" font-size="5.5" font-weight="bold" fill="#555" text-anchor="middle">10<tspan font-size="3.9" dy="-2.2">4</tspan></text>
<line x1="238.3" y1="44" x2="238.3" y2="115.3" stroke="#111" stroke-width="1.3" />
<polygon points="238.3,39.6 235.9,44.6 240.7,44.6" fill="#111"/>
<text x="240.5" y="140.3" font-size="9.2" text-anchor="start" font-weight="bold" fill="#111" textLength="21.6" lengthAdjust="spacingAndGlyphs" transform="rotate(-90 240.5 140.3)" >CD45.2</text>
<text x="254.5" y="181.4" font-size="9.4" text-anchor="start" font-weight="bold" fill="#111" textLength="20.4" lengthAdjust="spacingAndGlyphs" >CD45.1</text>
<line x1="278" y1="179.4" x2="362" y2="179.4" stroke="#111" stroke-width="1.3" />
<polygon points="366.8,179.4 361.3,176.8 361.3,182.0" fill="#111"/>
<text x="258.8" y="193.4" font-size="7.4" text-anchor="start" font-weight="normal" fill="#2a2a2a" textLength="41.6" lengthAdjust="spacingAndGlyphs" >Bak1-/- +ctrl</text>
<text x="322" y="192.9" font-size="7.4" text-anchor="start" font-weight="normal" fill="#2a2a2a" textLength="25.5" lengthAdjust="spacingAndGlyphs" >Bak1-/-</text>
<text x="322" y="202" font-size="7.4" text-anchor="start" font-weight="normal" fill="#2a2a2a" textLength="40.8" lengthAdjust="spacingAndGlyphs" >+miR26 TuD</text>
<line x1="406.3" y1="42.39999999999999" x2="406.3" y2="127.89999999999999" stroke="#1a1a1a" stroke-width="1.3" />
<line x1="405.7" y1="127.3" x2="486.5" y2="127.3" stroke="#1a1a1a" stroke-width="1.3" />
<line x1="403.1" y1="127.3" x2="406.3" y2="127.3" stroke="#1a1a1a" stroke-width="1.1" />
<text x="399.8" y="130.05" font-size="7.7" text-anchor="end" font-weight="normal" fill="#2a2a2a" textLength="4.5" lengthAdjust="spacingAndGlyphs" >0</text>
<line x1="403.1" y1="113.69999999999999" x2="406.3" y2="113.69999999999999" stroke="#1a1a1a" stroke-width="1.1" />
<text x="399.8" y="116.44999999999999" font-size="7.7" text-anchor="end" font-weight="normal" fill="#2a2a2a" textLength="9.0" lengthAdjust="spacingAndGlyphs" >10</text>
<line x1="403.1" y1="100.1" x2="406.3" y2="100.1" stroke="#1a1a1a" stroke-width="1.1" />
<text x="399.8" y="102.85" font-size="7.7" text-anchor="end" font-weight="normal" fill="#2a2a2a" textLength="9.0" lengthAdjust="spacingAndGlyphs" >20</text>
<line x1="403.1" y1="86.5" x2="406.3" y2="86.5" stroke="#1a1a1a" stroke-width="1.1" />
<text x="399.8" y="89.25" font-size="7.7" text-anchor="end" font-weight="normal" fill="#2a2a2a" textLength="9.0" lengthAdjust="spacingAndGlyphs" >30</text>
<line x1="403.1" y1="72.89999999999999" x2="406.3" y2="72.89999999999999" stroke="#1a1a1a" stroke-width="1.1" />
<text x="399.8" y="75.64999999999999" font-size="7.7" text-anchor="end" font-weight="normal" fill="#2a2a2a" textLength="9.0" lengthAdjust="spacingAndGlyphs" >40</text>
<line x1="403.1" y1="59.3" x2="406.3" y2="59.3" stroke="#1a1a1a" stroke-width="1.1" />
<text x="399.8" y="62.05" font-size="7.7" text-anchor="end" font-weight="normal" fill="#2a2a2a" textLength="9.0" lengthAdjust="spacingAndGlyphs" >50</text>
<line x1="403.1" y1="45.69999999999999" x2="406.3" y2="45.69999999999999" stroke="#1a1a1a" stroke-width="1.1" />
<text x="399.8" y="48.44999999999999" font-size="7.7" text-anchor="end" font-weight="normal" fill="#2a2a2a" textLength="9.0" lengthAdjust="spacingAndGlyphs" >60</text>
<rect x="411.0" y="69.50" width="6.0" height="57.80" fill="#2d4781"/>
<line x1="414.0" y1="65.692" x2="414.0" y2="69.5" stroke="#222" stroke-width="1.0" />
<line x1="411.9" y1="65.692" x2="416.1" y2="65.692" stroke="#222" stroke-width="1.3" />
<rect x="417" y="72.22" width="6.0" height="55.08" fill="#ae0b36"/>
<line x1="420.0" y1="66.64399999999999" x2="420.0" y2="72.22" stroke="#222" stroke-width="1.0" />
<line x1="417.9" y1="66.64399999999999" x2="422.1" y2="66.64399999999999" stroke="#222" stroke-width="1.3" />
<line x1="417" y1="127.3" x2="417" y2="130.1" stroke="#1a1a1a" stroke-width="1.0" />
<rect x="432.0" y="102.82" width="6.0" height="24.48" fill="#2d4781"/>
<line x1="435.0" y1="95.476" x2="435.0" y2="102.82" stroke="#222" stroke-width="1.0" />
<line x1="432.9" y1="95.476" x2="437.1" y2="95.476" stroke="#222" stroke-width="1.3" />
<rect x="438" y="97.11" width="6.0" height="30.19" fill="#ae0b36"/>
<line x1="441.0" y1="94.66" x2="441.0" y2="97.108" stroke="#222" stroke-width="1.0" />
<line x1="438.9" y1="94.66" x2="443.1" y2="94.66" stroke="#222" stroke-width="1.3" />
<line x1="438" y1="127.3" x2="438" y2="130.1" stroke="#1a1a1a" stroke-width="1.0" />
<rect x="453.0" y="58.21" width="6.0" height="69.09" fill="#2d4781"/>
<line x1="456.0" y1="52.90799999999999" x2="456.0" y2="58.21199999999999" stroke="#222" stroke-width="1.0" />
<line x1="453.9" y1="52.90799999999999" x2="458.1" y2="52.90799999999999" stroke="#222" stroke-width="1.3" />
<rect x="459" y="60.66" width="6.0" height="66.64" fill="#ae0b36"/>
<line x1="462.0" y1="56.85199999999999" x2="462.0" y2="60.66" stroke="#222" stroke-width="1.0" />
<line x1="459.9" y1="56.85199999999999" x2="464.1" y2="56.85199999999999" stroke="#222" stroke-width="1.3" />
<line x1="459" y1="127.3" x2="459" y2="130.1" stroke="#1a1a1a" stroke-width="1.0" />
<rect x="474.2" y="78.61" width="6.0" height="48.69" fill="#2d4781"/>
<line x1="477.2" y1="74.94" x2="477.2" y2="78.612" stroke="#222" stroke-width="1.0" />
<line x1="475.09999999999997" y1="74.94" x2="479.3" y2="74.94" stroke="#222" stroke-width="1.3" />
<rect x="480.2" y="74.94" width="6.0" height="52.36" fill="#ae0b36"/>
<line x1="483.2" y1="69.092" x2="483.2" y2="74.94" stroke="#222" stroke-width="1.0" />
<line x1="481.09999999999997" y1="69.092" x2="485.3" y2="69.092" stroke="#222" stroke-width="1.3" />
<line x1="480.2" y1="127.3" x2="480.2" y2="130.1" stroke="#1a1a1a" stroke-width="1.0" />
<text x="385.1" y="84.85" font-size="8.8" text-anchor="middle" font-weight="bold" fill="#222" textLength="65.6" lengthAdjust="spacingAndGlyphs" transform="rotate(-90 385.1 84.85)" >Donor-derived PB (%)</text>
<text x="419.90000000000003" y="133.9" font-size="7.4" text-anchor="end" font-weight="normal" fill="#2a2a2a" textLength="50" lengthAdjust="spacingAndGlyphs" transform="rotate(-90 419.90000000000003 133.9)" >Bak1+/++ctrl</text>
<text x="436.1" y="133.9" font-size="7.4" text-anchor="end" font-weight="normal" fill="#2a2a2a" textLength="31.5" lengthAdjust="spacingAndGlyphs" transform="rotate(-90 436.1 133.9)" >Bak1+/+</text>
<text x="446.0" y="133.9" font-size="7.4" text-anchor="end" font-weight="normal" fill="#2a2a2a" textLength="46.5" lengthAdjust="spacingAndGlyphs" transform="rotate(-90 446.0 133.9)" >+miR-26 TuD</text>
<text x="460.90000000000003" y="133.9" font-size="7.4" text-anchor="end" font-weight="normal" fill="#2a2a2a" textLength="44.5" lengthAdjust="spacingAndGlyphs" transform="rotate(-90 460.90000000000003 133.9)" >Bak1-/- +ctrl</text>
<text x="478.5" y="133.9" font-size="7.4" text-anchor="end" font-weight="normal" fill="#2a2a2a" textLength="58" lengthAdjust="spacingAndGlyphs" transform="rotate(-90 478.5 133.9)" >Bak1-/- +miR-26</text>
<text x="487.20000000000005" y="133.9" font-size="7.4" text-anchor="end" font-weight="normal" fill="#2a2a2a" textLength="12.5" lengthAdjust="spacingAndGlyphs" transform="rotate(-90 487.20000000000005 133.9)" >TuD</text>
<line x1="412.4" y1="54.8" x2="434" y2="54.8" stroke="#111" stroke-width="1.2" />
<circle cx="421.45" cy="50.90" r="1.2" fill="#111"/>
<circle cx="424.95" cy="50.90" r="1.2" fill="#111"/>
<line x1="419.6" y1="63.1" x2="440.5" y2="63.1" stroke="#111" stroke-width="1.2" />
<circle cx="430.05" cy="59.20" r="1.2" fill="#111"/>
<line x1="434.3" y1="47.2" x2="475.1" y2="47.2" stroke="#111" stroke-width="1.2" />
<circle cx="454.70" cy="43.30" r="1.2" fill="#111"/>
<line x1="442.2" y1="39.4" x2="483.2" y2="39.4" stroke="#111" stroke-width="1.2" />
<circle cx="462.70" cy="35.50" r="1.2" fill="#111"/>
<rect x="486.5" y="44.2" width="4.3" height="4.3" fill="#2d4781"/>
<rect x="486.5" y="55.7" width="4.3" height="4.3" fill="#ae0b36"/>
<text x="493.5" y="48.7" font-size="7.6" text-anchor="start" font-weight="normal" fill="#1a1a1a" textLength="18.5" lengthAdjust="spacingAndGlyphs" >4 wks</text>
<text x="493.5" y="60.2" font-size="7.6" text-anchor="start" font-weight="normal" fill="#1a1a1a" textLength="18.5" lengthAdjust="spacingAndGlyphs" >8 wks</text>
<text x="7.4" y="220.2" font-size="11.8" text-anchor="start" font-weight="bold" fill="#111" stroke="#111" stroke-width="0.35">C</text>
<line x1="41.6" y1="242.60000000000002" x2="41.6" y2="333.20000000000005" stroke="#1a1a1a" stroke-width="1.3" />
<line x1="41.0" y1="332.6" x2="128.2" y2="332.6" stroke="#1a1a1a" stroke-width="1.3" />
<line x1="38.4" y1="332.6" x2="41.6" y2="332.6" stroke="#1a1a1a" stroke-width="1.1" />
<text x="35.1" y="335.35" font-size="7.7" text-anchor="end" font-weight="normal" fill="#2a2a2a" textLength="4.5" lengthAdjust="spacingAndGlyphs" >0</text>
<line x1="38.4" y1="318.15000000000003" x2="41.6" y2="318.15000000000003" stroke="#1a1a1a" stroke-width="1.1" />
<text x="35.1" y="320.90000000000003" font-size="7.7" text-anchor="end" font-weight="normal" fill="#2a2a2a" textLength="9.0" lengthAdjust="spacingAndGlyphs" >10</text>
<line x1="38.4" y1="303.70000000000005" x2="41.6" y2="303.70000000000005" stroke="#1a1a1a" stroke-width="1.1" />
<text x="35.1" y="306.45000000000005" font-size="7.7" text-anchor="end" font-weight="normal" fill="#2a2a2a" textLength="9.0" lengthAdjust="spacingAndGlyphs" >20</text>
<line x1="38.4" y1="289.25" x2="41.6" y2="289.25" stroke="#1a1a1a" stroke-width="1.1" />
<text x="35.1" y="292.0" font-size="7.7" text-anchor="end" font-weight="normal" fill="#2a2a2a" textLength="9.0" lengthAdjust="spacingAndGlyphs" >30</text>
<line x1="38.4" y1="274.8" x2="41.6" y2="274.8" stroke="#1a1a1a" stroke-width="1.1" />
<text x="35.1" y="277.55" font-size="7.7" text-anchor="end" font-weight="normal" fill="#2a2a2a" textLength="9.0" lengthAdjust="spacingAndGlyphs" >40</text>
<line x1="38.4" y1="260.35" x2="41.6" y2="260.35" stroke="#1a1a1a" stroke-width="1.1" />
<text x="35.1" y="263.1" font-size="7.7" text-anchor="end" font-weight="normal" fill="#2a2a2a" textLength="9.0" lengthAdjust="spacingAndGlyphs" >50</text>
<line x1="38.4" y1="245.90000000000003" x2="41.6" y2="245.90000000000003" stroke="#1a1a1a" stroke-width="1.1" />
<text x="35.1" y="248.65000000000003" font-size="7.7" text-anchor="end" font-weight="normal" fill="#2a2a2a" textLength="9.0" lengthAdjust="spacingAndGlyphs" >60</text>
<rect x="46.699999999999996" y="277.69" width="6.2" height="54.91" fill="#2d4781"/>
<line x1="49.8" y1="274.36650000000003" x2="49.8" y2="277.69" stroke="#222" stroke-width="1.0" />
<line x1="47.699999999999996" y1="274.36650000000003" x2="51.9" y2="274.36650000000003" stroke="#222" stroke-width="1.3" />
<rect x="52.9" y="274.80" width="6.2" height="57.80" fill="#ae0b36"/>
<line x1="56.0" y1="269.598" x2="56.0" y2="274.8" stroke="#222" stroke-width="1.0" />
<line x1="53.9" y1="269.598" x2="58.1" y2="269.598" stroke="#222" stroke-width="1.3" />
<line x1="52.9" y1="332.6" x2="52.9" y2="335.40000000000003" stroke="#1a1a1a" stroke-width="1.0" />
<rect x="69.3" y="291.42" width="6.2" height="41.18" fill="#2d4781"/>
<line x1="72.39999999999999" y1="287.805" x2="72.39999999999999" y2="291.4175" stroke="#222" stroke-width="1.0" />
<line x1="70.3" y1="287.805" x2="74.49999999999999" y2="287.805" stroke="#222" stroke-width="1.3" />
<rect x="75.5" y="295.03" width="6.2" height="37.57" fill="#ae0b36"/>
<line x1="78.6" y1="291.562" x2="78.6" y2="295.03000000000003" stroke="#222" stroke-width="1.0" />
<line x1="76.5" y1="291.562" x2="80.69999999999999" y2="291.562" stroke="#222" stroke-width="1.3" />
<line x1="75.5" y1="332.6" x2="75.5" y2="335.40000000000003" stroke="#1a1a1a" stroke-width="1.0" />
<rect x="92.39999999999999" y="269.31" width="6.2" height="63.29" fill="#2d4781"/>
<line x1="95.49999999999999" y1="267.57500000000005" x2="95.49999999999999" y2="269.309" stroke="#222" stroke-width="1.0" />
<line x1="93.39999999999999" y1="267.57500000000005" x2="97.59999999999998" y2="267.57500000000005" stroke="#222" stroke-width="1.3" />
<rect x="98.6" y="266.71" width="6.2" height="65.89" fill="#ae0b36"/>
<line x1="101.69999999999999" y1="258.90500000000003" x2="101.69999999999999" y2="266.708" stroke="#222" stroke-width="1.0" />
<line x1="99.6" y1="258.90500000000003" x2="103.79999999999998" y2="258.90500000000003" stroke="#222" stroke-width="1.3" />
<line x1="98.6" y1="332.6" x2="98.6" y2="335.40000000000003" stroke="#1a1a1a" stroke-width="1.0" />
<rect x="115.0" y="280.58" width="6.2" height="52.02" fill="#2d4781"/>
<line x1="118.1" y1="278.4125" x2="118.1" y2="280.58000000000004" stroke="#222" stroke-width="1.0" />
<line x1="116.0" y1="278.4125" x2="120.19999999999999" y2="278.4125" stroke="#222" stroke-width="1.3" />
<rect x="121.2" y="276.53" width="6.2" height="56.07" fill="#ae0b36"/>
<line x1="124.3" y1="271.91" x2="124.3" y2="276.53400000000005" stroke="#222" stroke-width="1.0" />
<line x1="122.2" y1="271.91" x2="126.39999999999999" y2="271.91" stroke="#222" stroke-width="1.3" />
<line x1="121.2" y1="332.6" x2="121.2" y2="335.40000000000003" stroke="#1a1a1a" stroke-width="1.0" />
<text x="20.0" y="288.3" font-size="8.8" text-anchor="middle" font-weight="bold" fill="#222" textLength="70.4" lengthAdjust="spacingAndGlyphs" transform="rotate(-90 20.0 288.3)" >Donor-derived cells (%)</text>
<text x="55.9" y="338.5" font-size="7.4" text-anchor="end" font-weight="normal" fill="#2a2a2a" textLength="49" lengthAdjust="spacingAndGlyphs" transform="rotate(-90 55.9 338.5)" >Bak1+/++ctrl</text>
<text x="73.89999999999999" y="338.5" font-size="7.4" text-anchor="end" font-weight="normal" fill="#2a2a2a" textLength="31.7" lengthAdjust="spacingAndGlyphs" transform="rotate(-90 73.89999999999999 338.5)" >Bak1+/+</text>
<text x="83.99999999999999" y="338.5" font-size="7.4" text-anchor="end" font-weight="normal" fill="#2a2a2a" textLength="47" lengthAdjust="spacingAndGlyphs" transform="rotate(-90 83.99999999999999 338.5)" >+miR-26 TuD</text>
<text x="100.39999999999998" y="338.5" font-size="7.4" text-anchor="end" font-weight="normal" fill="#2a2a2a" textLength="44.2" lengthAdjust="spacingAndGlyphs" transform="rotate(-90 100.39999999999998 338.5)" >Bak1-/- +ctrl</text>
<text x="118.6" y="338.5" font-size="7.4" text-anchor="end" font-weight="normal" fill="#2a2a2a" textLength="27" lengthAdjust="spacingAndGlyphs" transform="rotate(-90 118.6 338.5)" >Bak1-/-</text>
<text x="129.2" y="338.5" font-size="7.4" text-anchor="end" font-weight="normal" fill="#2a2a2a" textLength="47" lengthAdjust="spacingAndGlyphs" transform="rotate(-90 129.2 338.5)" >+miR-26 TuD</text>
<line x1="49.4" y1="256" x2="73.1" y2="256" stroke="#111" stroke-width="1.2" />
<circle cx="61.25" cy="252.10" r="1.2" fill="#111"/>
<line x1="55.2" y1="263.6" x2="78.8" y2="263.6" stroke="#111" stroke-width="1.2" />
<circle cx="67.00" cy="259.70" r="1.2" fill="#111"/>
<line x1="80.3" y1="253.4" x2="127" y2="253.4" stroke="#111" stroke-width="1.2" />
<circle cx="103.65" cy="249.50" r="1.2" fill="#111"/>
<rect x="131.2" y="245.4" width="4.3" height="4.3" fill="#2d4781"/>
<rect x="131.2" y="256.2" width="4.3" height="4.3" fill="#ae0b36"/>
<text x="138.2" y="249.9" font-size="7.6" text-anchor="start" font-weight="normal" fill="#1a1a1a" textLength="17.5" lengthAdjust="spacingAndGlyphs" >4wks</text>
<text x="138.2" y="260.7" font-size="7.6" text-anchor="start" font-weight="normal" fill="#1a1a1a" textLength="17.5" lengthAdjust="spacingAndGlyphs" >8wks</text>
<text x="77.3" y="227.4" font-size="9.6" text-anchor="start" font-weight="bold" fill="#111" textLength="22.3" lengthAdjust="spacingAndGlyphs" >B220</text>
<line x1="192.1" y1="245.89999999999998" x2="192.1" y2="333.8" stroke="#1a1a1a" stroke-width="1.3" />
<line x1="191.5" y1="333.2" x2="282.8" y2="333.2" stroke="#1a1a1a" stroke-width="1.3" />
<line x1="188.9" y1="333.2" x2="192.1" y2="333.2" stroke="#1a1a1a" stroke-width="1.1" />
<text x="185.6" y="335.95" font-size="7.7" text-anchor="end" font-weight="normal" fill="#2a2a2a" textLength="4.5" lengthAdjust="spacingAndGlyphs" >0</text>
<line x1="188.9" y1="319.2" x2="192.1" y2="319.2" stroke="#1a1a1a" stroke-width="1.1" />
<text x="185.6" y="321.95" font-size="7.7" text-anchor="end" font-weight="normal" fill="#2a2a2a" textLength="9.0" lengthAdjust="spacingAndGlyphs" >10</text>
<line x1="188.9" y1="305.2" x2="192.1" y2="305.2" stroke="#1a1a1a" stroke-width="1.1" />
<text x="185.6" y="307.95" font-size="7.7" text-anchor="end" font-weight="normal" fill="#2a2a2a" textLength="9.0" lengthAdjust="spacingAndGlyphs" >20</text>
<line x1="188.9" y1="291.2" x2="192.1" y2="291.2" stroke="#1a1a1a" stroke-width="1.1" />
<text x="185.6" y="293.95" font-size="7.7" text-anchor="end" font-weight="normal" fill="#2a2a2a" textLength="9.0" lengthAdjust="spacingAndGlyphs" >30</text>
<line x1="188.9" y1="277.2" x2="192.1" y2="277.2" stroke="#1a1a1a" stroke-width="1.1" />
<text x="185.6" y="279.95" font-size="7.7" text-anchor="end" font-weight="normal" fill="#2a2a2a" textLength="9.0" lengthAdjust="spacingAndGlyphs" >40</text>
<line x1="188.9" y1="263.2" x2="192.1" y2="263.2" stroke="#1a1a1a" stroke-width="1.1" />
<text x="185.6" y="265.95" font-size="7.7" text-anchor="end" font-weight="normal" fill="#2a2a2a" textLength="9.0" lengthAdjust="spacingAndGlyphs" >50</text>
<line x1="188.9" y1="249.2" x2="192.1" y2="249.2" stroke="#1a1a1a" stroke-width="1.1" />
<text x="185.6" y="251.95" font-size="7.7" text-anchor="end" font-weight="normal" fill="#2a2a2a" textLength="9.0" lengthAdjust="spacingAndGlyphs" >60</text>
<rect x="197.3" y="282.80" width="6.2" height="50.40" fill="#2d4781"/>
<line x1="200.4" y1="277.48" x2="200.4" y2="282.8" stroke="#222" stroke-width="1.0" />
<line x1="198.3" y1="277.48" x2="202.5" y2="277.48" stroke="#222" stroke-width="1.3" />
<rect x="203.5" y="277.90" width="6.2" height="55.30" fill="#ae0b36"/>
<line x1="206.6" y1="275.1" x2="206.6" y2="277.9" stroke="#222" stroke-width="1.0" />
<line x1="204.5" y1="275.1" x2="208.7" y2="275.1" stroke="#222" stroke-width="1.3" />
<line x1="203.5" y1="333.2" x2="203.5" y2="336.0" stroke="#1a1a1a" stroke-width="1.0" />
<rect x="220.10000000000002" y="294.00" width="6.2" height="39.20" fill="#2d4781"/>
<line x1="223.20000000000002" y1="289.52" x2="223.20000000000002" y2="294.0" stroke="#222" stroke-width="1.0" />
<line x1="221.10000000000002" y1="289.52" x2="225.3" y2="289.52" stroke="#222" stroke-width="1.3" />
<rect x="226.3" y="291.20" width="6.2" height="42.00" fill="#ae0b36"/>
<line x1="229.4" y1="287.7" x2="229.4" y2="291.2" stroke="#222" stroke-width="1.0" />
<line x1="227.3" y1="287.7" x2="231.5" y2="287.7" stroke="#222" stroke-width="1.3" />
<line x1="226.3" y1="333.2" x2="226.3" y2="336.0" stroke="#1a1a1a" stroke-width="1.0" />
<rect x="242.8" y="273.70" width="6.2" height="59.50" fill="#2d4781"/>
<line x1="245.9" y1="270.48" x2="245.9" y2="273.7" stroke="#222" stroke-width="1.0" />
<line x1="243.8" y1="270.48" x2="248.0" y2="270.48" stroke="#222" stroke-width="1.3" />
<rect x="249" y="274.40" width="6.2" height="58.80" fill="#ae0b36"/>
<line x1="252.1" y1="270.48" x2="252.1" y2="274.4" stroke="#222" stroke-width="1.0" />
<line x1="250.0" y1="270.48" x2="254.2" y2="270.48" stroke="#222" stroke-width="1.3" />
<line x1="249" y1="333.2" x2="249" y2="336.0" stroke="#1a1a1a" stroke-width="1.0" />
<rect x="265.5" y="283.50" width="6.2" height="49.70" fill="#2d4781"/>
<line x1="268.6" y1="280.7" x2="268.6" y2="283.5" stroke="#222" stroke-width="1.0" />
<line x1="266.5" y1="280.7" x2="270.70000000000005" y2="280.7" stroke="#222" stroke-width="1.3" />
<rect x="271.7" y="280.70" width="6.2" height="52.50" fill="#ae0b36"/>
<line x1="274.8" y1="279.02" x2="274.8" y2="280.7" stroke="#222" stroke-width="1.0" />
<line x1="272.7" y1="279.02" x2="276.90000000000003" y2="279.02" stroke="#222" stroke-width="1.3" />
<line x1="271.7" y1="333.2" x2="271.7" y2="336.0" stroke="#1a1a1a" stroke-width="1.0" />
<text x="170.4" y="289.85" font-size="8.8" text-anchor="middle" font-weight="bold" fill="#222" textLength="69.8" lengthAdjust="spacingAndGlyphs" transform="rotate(-90 170.4 289.85)" >Donor-derived cells (%)</text>
<text x="205.9" y="338.5" font-size="7.4" text-anchor="end" font-weight="normal" fill="#2a2a2a" textLength="49" lengthAdjust="spacingAndGlyphs" transform="rotate(-90 205.9 338.5)" >Bak1+/++ctrl</text>
<text x="224.1" y="338.5" font-size="7.4" text-anchor="end" font-weight="normal" fill="#2a2a2a" textLength="31.7" lengthAdjust="spacingAndGlyphs" transform="rotate(-90 224.1 338.5)" >Bak1+/+</text>
<text x="234.20000000000002" y="338.5" font-size="7.4" text-anchor="end" font-weight="normal" fill="#2a2a2a" textLength="47" lengthAdjust="spacingAndGlyphs" transform="rotate(-90 234.20000000000002 338.5)" >+miR-26 TuD</text>
<text x="250.2" y="338.5" font-size="7.4" text-anchor="end" font-weight="normal" fill="#2a2a2a" textLength="44.2" lengthAdjust="spacingAndGlyphs" transform="rotate(-90 250.2 338.5)" >Bak1-/- +ctrl</text>
<text x="268.5" y="338.5" font-size="7.4" text-anchor="end" font-weight="normal" fill="#2a2a2a" textLength="27" lengthAdjust="spacingAndGlyphs" transform="rotate(-90 268.5 338.5)" >Bak1-/-</text>
<text x="279.1" y="338.5" font-size="7.4" text-anchor="end" font-weight="normal" fill="#2a2a2a" textLength="47" lengthAdjust="spacingAndGlyphs" transform="rotate(-90 279.1 338.5)" >+miR-26 TuD</text>
<line x1="199.2" y1="266.1" x2="223.7" y2="266.1" stroke="#111" stroke-width="1.2" />
<circle cx="211.45" cy="262.20" r="1.2" fill="#111"/>
<line x1="206" y1="273.5" x2="229.6" y2="273.5" stroke="#111" stroke-width="1.2" />
<circle cx="217.80" cy="269.60" r="1.2" fill="#111"/>
<line x1="222.6" y1="259.6" x2="268.9" y2="259.6" stroke="#111" stroke-width="1.2" />
<circle cx="245.75" cy="255.70" r="1.2" fill="#111"/>
<text x="229.6" y="227.4" font-size="9.6" text-anchor="start" font-weight="bold" fill="#111" textLength="19" lengthAdjust="spacingAndGlyphs" >CD3</text>
<line x1="322" y1="242.49999999999997" x2="322" y2="334.0" stroke="#1a1a1a" stroke-width="1.3" />
<line x1="321.4" y1="333.4" x2="418" y2="333.4" stroke="#1a1a1a" stroke-width="1.3" />
<line x1="318.8" y1="333.4" x2="322" y2="333.4" stroke="#1a1a1a" stroke-width="1.1" />
<text x="315.5" y="336.15" font-size="7.7" text-anchor="end" font-weight="normal" fill="#2a2a2a" textLength="4.5" lengthAdjust="spacingAndGlyphs" >0</text>
<line x1="318.8" y1="318.79999999999995" x2="322" y2="318.79999999999995" stroke="#1a1a1a" stroke-width="1.1" />
<text x="315.5" y="321.54999999999995" font-size="7.7" text-anchor="end" font-weight="normal" fill="#2a2a2a" textLength="9.0" lengthAdjust="spacingAndGlyphs" >10</text>
<line x1="318.8" y1="304.2" x2="322" y2="304.2" stroke="#1a1a1a" stroke-width="1.1" />
<text x="315.5" y="306.95" font-size="7.7" text-anchor="end" font-weight="normal" fill="#2a2a2a" textLength="9.0" lengthAdjust="spacingAndGlyphs" >20</text>
<line x1="318.8" y1="289.59999999999997" x2="322" y2="289.59999999999997" stroke="#1a1a1a" stroke-width="1.1" />
<text x="315.5" y="292.34999999999997" font-size="7.7" text-anchor="end" font-weight="normal" fill="#2a2a2a" textLength="9.0" lengthAdjust="spacingAndGlyphs" >30</text>
<line x1="318.8" y1="275.0" x2="322" y2="275.0" stroke="#1a1a1a" stroke-width="1.1" />
<text x="315.5" y="277.75" font-size="7.7" text-anchor="end" font-weight="normal" fill="#2a2a2a" textLength="9.0" lengthAdjust="spacingAndGlyphs" >40</text>
<line x1="318.8" y1="260.4" x2="322" y2="260.4" stroke="#1a1a1a" stroke-width="1.1" />
<text x="315.5" y="263.15" font-size="7.7" text-anchor="end" font-weight="normal" fill="#2a2a2a" textLength="9.0" lengthAdjust="spacingAndGlyphs" >50</text>
<line x1="318.8" y1="245.79999999999998" x2="322" y2="245.79999999999998" stroke="#1a1a1a" stroke-width="1.1" />
<text x="315.5" y="248.54999999999998" font-size="7.7" text-anchor="end" font-weight="normal" fill="#2a2a2a" textLength="9.0" lengthAdjust="spacingAndGlyphs" >60</text>
<rect x="328.6" y="271.50" width="6.0" height="61.90" fill="#2d4781"/>
<line x1="331.6" y1="266.96999999999997" x2="331.6" y2="271.496" stroke="#222" stroke-width="1.0" />
<line x1="329.5" y1="266.96999999999997" x2="333.70000000000005" y2="266.96999999999997" stroke="#222" stroke-width="1.3" />
<rect x="334.6" y="274.12" width="6.0" height="59.28" fill="#ae0b36"/>
<line x1="337.6" y1="264.63399999999996" x2="337.6" y2="274.12399999999997" stroke="#222" stroke-width="1.0" />
<line x1="335.5" y1="264.63399999999996" x2="339.70000000000005" y2="264.63399999999996" stroke="#222" stroke-width="1.3" />
<line x1="334.6" y1="333.4" x2="334.6" y2="336.2" stroke="#1a1a1a" stroke-width="1.0" />
<rect x="351.9" y="307.41" width="6.0" height="25.99" fill="#2d4781"/>
<line x1="354.9" y1="300.11199999999997" x2="354.9" y2="307.412" stroke="#222" stroke-width="1.0" />
<line x1="352.79999999999995" y1="300.11199999999997" x2="357.0" y2="300.11199999999997" stroke="#222" stroke-width="1.3" />
<rect x="357.9" y="301.28" width="6.0" height="32.12" fill="#ae0b36"/>
<line x1="360.9" y1="296.316" x2="360.9" y2="301.28" stroke="#222" stroke-width="1.0" />
<line x1="358.79999999999995" y1="296.316" x2="363.0" y2="296.316" stroke="#222" stroke-width="1.3" />
<line x1="357.9" y1="333.4" x2="357.9" y2="336.2" stroke="#1a1a1a" stroke-width="1.0" />
<rect x="376.1" y="259.82" width="6.0" height="73.58" fill="#2d4781"/>
<line x1="379.1" y1="254.26799999999997" x2="379.1" y2="259.816" stroke="#222" stroke-width="1.0" />
<line x1="377.0" y1="254.26799999999997" x2="381.20000000000005" y2="254.26799999999997" stroke="#222" stroke-width="1.3" />
<rect x="382.1" y="261.71" width="6.0" height="71.69" fill="#ae0b36"/>
<line x1="385.1" y1="255.582" x2="385.1" y2="261.71399999999994" stroke="#222" stroke-width="1.0" />
<line x1="383.0" y1="255.582" x2="387.20000000000005" y2="255.582" stroke="#222" stroke-width="1.3" />
<line x1="382.1" y1="333.4" x2="382.1" y2="336.2" stroke="#1a1a1a" stroke-width="1.0" />
<rect x="400.1" y="281.57" width="6.0" height="51.83" fill="#2d4781"/>
<line x1="403.1" y1="278.50399999999996" x2="403.1" y2="281.57" stroke="#222" stroke-width="1.0" />
<line x1="401.0" y1="278.50399999999996" x2="405.20000000000005" y2="278.50399999999996" stroke="#222" stroke-width="1.3" />
<rect x="406.1" y="277.19" width="6.0" height="56.21" fill="#ae0b36"/>
<line x1="409.1" y1="270.62" x2="409.1" y2="277.19" stroke="#222" stroke-width="1.0" />
<line x1="407.0" y1="270.62" x2="411.20000000000005" y2="270.62" stroke="#222" stroke-width="1.3" />
<line x1="406.1" y1="333.4" x2="406.1" y2="336.2" stroke="#1a1a1a" stroke-width="1.0" />
<text x="300.2" y="288.5" font-size="8.8" text-anchor="middle" font-weight="bold" fill="#222" textLength="70.0" lengthAdjust="spacingAndGlyphs" transform="rotate(-90 300.2 288.5)" >Donor-derived cells (%)</text>
<text x="337.00000000000006" y="338.5" font-size="7.4" text-anchor="end" font-weight="normal" fill="#2a2a2a" textLength="49" lengthAdjust="spacingAndGlyphs" transform="rotate(-90 337.00000000000006 338.5)" >Bak1+/++ctrl</text>
<text x="355.7" y="338.5" font-size="7.4" text-anchor="end" font-weight="normal" fill="#2a2a2a" textLength="31.7" lengthAdjust="spacingAndGlyphs" transform="rotate(-90 355.7 338.5)" >Bak1+/+</text>
<text x="365.8" y="338.5" font-size="7.4" text-anchor="end" font-weight="normal" fill="#2a2a2a" textLength="47" lengthAdjust="spacingAndGlyphs" transform="rotate(-90 365.8 338.5)" >+miR-26 TuD</text>
<text x="383.30000000000007" y="338.5" font-size="7.4" text-anchor="end" font-weight="normal" fill="#2a2a2a" textLength="44.2" lengthAdjust="spacingAndGlyphs" transform="rotate(-90 383.30000000000007 338.5)" >Bak1-/- +ctrl</text>
<text x="402.90000000000003" y="338.5" font-size="7.4" text-anchor="end" font-weight="normal" fill="#2a2a2a" textLength="27" lengthAdjust="spacingAndGlyphs" transform="rotate(-90 402.90000000000003 338.5)" >Bak1-/-</text>
<text x="413.50000000000006" y="338.5" font-size="7.4" text-anchor="end" font-weight="normal" fill="#2a2a2a" textLength="47" lengthAdjust="spacingAndGlyphs" transform="rotate(-90 413.50000000000006 338.5)" >+miR-26 TuD</text>
<line x1="332" y1="251.5" x2="353.5" y2="251.5" stroke="#111" stroke-width="1.2" />
<circle cx="341.00" cy="247.60" r="1.2" fill="#111"/>
<circle cx="344.50" cy="247.60" r="1.2" fill="#111"/>
<line x1="339" y1="259.3" x2="361" y2="259.3" stroke="#111" stroke-width="1.2" />
<circle cx="350.00" cy="255.40" r="1.2" fill="#111"/>
<line x1="354.7" y1="247.8" x2="402.7" y2="247.8" stroke="#111" stroke-width="1.2" />
<circle cx="378.70" cy="243.90" r="1.2" fill="#111"/>
<line x1="362.3" y1="239.5" x2="411" y2="239.5" stroke="#111" stroke-width="1.2" />
<circle cx="386.65" cy="235.60" r="1.2" fill="#111"/>
<text x="357.7" y="227.5" font-size="9.6" text-anchor="start" font-weight="bold" fill="#111" textLength="26.5" lengthAdjust="spacingAndGlyphs" >Mac-1</text>
</svg><div id="bd"></div></div></body></html>
